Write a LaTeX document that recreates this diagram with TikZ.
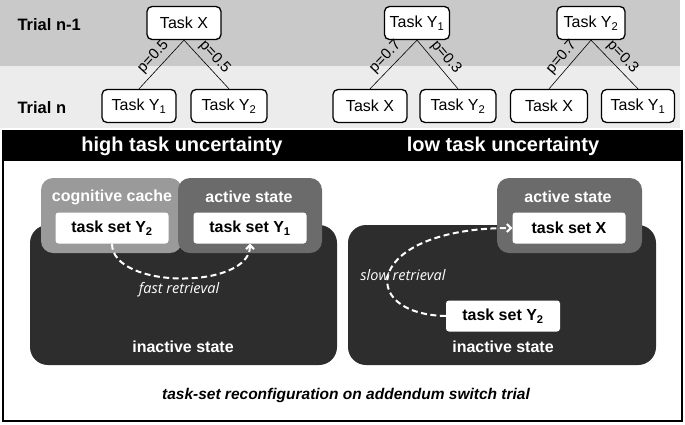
\documentclass[tikz,border=0pt]{standalone}
\usepackage{fontspec}
\setmainfont{Liberation Sans}
\newfontfamily\softfont{Open Sans}
\usetikzlibrary{arrows.meta}
\definecolor{bandA}{HTML}{C9C9C9}
\definecolor{bandB}{HTML}{ECECEC}
\definecolor{cachegray}{HTML}{9A9A9A}
\definecolor{activegray}{HTML}{6B6B6B}
\definecolor{inactivegray}{HTML}{2D2D2D}
\begin{document}
\begin{tikzpicture}[x=1pt,y=-1pt,
	task/.style={draw, fill=white, rounded corners=5pt, line width=1.3pt, minimum width=74pt, minimum height=33pt, inner sep=0pt, font=\fontsize{16}{19}\selectfont},
	trial/.style={anchor=west, font=\bfseries\fontsize{16.5}{19}\selectfont},
	prob/.style={midway, sloped, above, inner sep=4pt, font=\fontsize{15}{17}\selectfont},
	region/.style={rounded corners=#1, inner sep=0pt},
	taskset/.style={fill=white, rounded corners=3pt, minimum width=113pt, minimum height=31pt, inner sep=0pt, font=\bfseries\fontsize{16}{19}\selectfont},
	statelabel/.style={text=white, font=\bfseries\fontsize{16}{19}\selectfont},
	retrieval/.style={white, line width=2pt, dash pattern=on 6pt off 3.5pt, -{Straight Barb[length=4pt,width=8pt]}},
	retlabel/.style={text=white, font=\softfont\itshape\fontsize{14.5}{17}\selectfont}]
	\useasboundingbox (0,0) rectangle (685,424);
	\fill[bandA] (0,0) rectangle (680,66);
	\fill[bandB] (0,66) rectangle (680,128);
	\node[trial] (trialprev) at (14,25) {Trial n-1};
	\node[trial] (trialcur) at (14,108) {Trial n};
	
	\node[task] (tX) at (184,23) {Task X};
	\node[task, minimum width=65pt] (tY1) at (417,23) {Task Y\textsubscript{1}};
	\node[task, minimum width=68pt] (tY2) at (591,23) {Task Y\textsubscript{2}};
	\node[task] (aY1) at (139,106) {Task Y\textsubscript{1}};
	\node[task, minimum width=76pt] (aY2) at (229,106) {Task Y\textsubscript{2}};
	\node[task] (bX) at (370,106) {Task X};
	\node[task, minimum width=76pt] (bY2) at (458,106) {Task Y\textsubscript{2}};
	\node[task, minimum width=77pt] (cX) at (549,106) {Task X};
	\node[task, minimum width=73pt] (cY1) at (638,106) {Task Y\textsubscript{1}};
	
	\foreach \p/\c/\l in {tX/aY1/0.5, tY1/bX/0.7, tY2/cX/0.7}{
		\draw[line width=0.6pt] (\c.north) -- node[prob]{p=\l} (\p.south);
	}
	\foreach \p/\c/\l in {tX/aY2/0.5, tY1/bY2/0.3, tY2/cY1/0.3}{
		\draw[line width=0.6pt] (\p.south) -- node[prob]{p=\l} (\c.north);
	}
	
	\draw[line width=1.5pt] (3,131) rectangle (682,421);
	\fill[black] (3,131) rectangle (682,161);
	\node[text=white, font=\bfseries\fontsize{20}{24}\selectfont] (high) at (182,146) {high task uncertainty};
	\node[text=white, font=\bfseries\fontsize{20}{24}\selectfont] (low) at (503,146) {low task uncertainty};
	
	\node[region=18pt, fill=inactivegray, minimum width=307pt, minimum height=140pt] (inL) at (183.5,295) {};
	\node[region=12pt, fill=cachegray, minimum width=141pt, minimum height=75pt] (cache) at (111.5,215.5) {};
	\node[region=12pt, fill=activegray, minimum width=144pt, minimum height=75pt] (actL) at (250,215.5) {};
	\node[region=18pt, fill=inactivegray, minimum width=308pt, minimum height=140pt] (inR) at (502,295) {};
	\node[region=12pt, fill=activegray, minimum width=145pt, minimum height=75pt] (actR) at (569.5,215.5) {};
	
	\node[statelabel] (cachelab) at (112,197) {cognitive cache};
	\node[statelabel] (actLlab) at (249,197) {active state};
	\node[statelabel] (actRlab) at (568,197) {active state};
	\node[statelabel] (inLlab) at (183,347) {inactive state};
	\node[statelabel] (inRlab) at (503,347) {inactive state};
	
	\node[taskset] (tsY2) at (112,228) {task set Y\textsubscript{2}};
	\node[taskset] (tsY1) at (250,228) {task set Y\textsubscript{1}};
	\node[taskset] (tsX) at (569,228) {task set X};
	\node[taskset, minimum width=114pt] (tsY2r) at (503,316) {task set Y\textsubscript{2}};
	
	\draw[retrieval] (tsY2.south) .. controls +(0,46) and +(0,46) .. (tsY1.south);
	\node[retlabel] (fast) at (179,290) {fast retrieval};
	\draw[retrieval] (tsY2r.west) .. controls (355,314) and (365,228) .. (tsX.west);
	\node[retlabel] (slow) at (403,275) {slow retrieval};
	
	\node[font=\bfseries\itshape\fontsize{15.5}{18}\selectfont] (caption) at (346,395) {task-set reconfiguration on addendum switch trial};
\end{tikzpicture}
\end{document}
